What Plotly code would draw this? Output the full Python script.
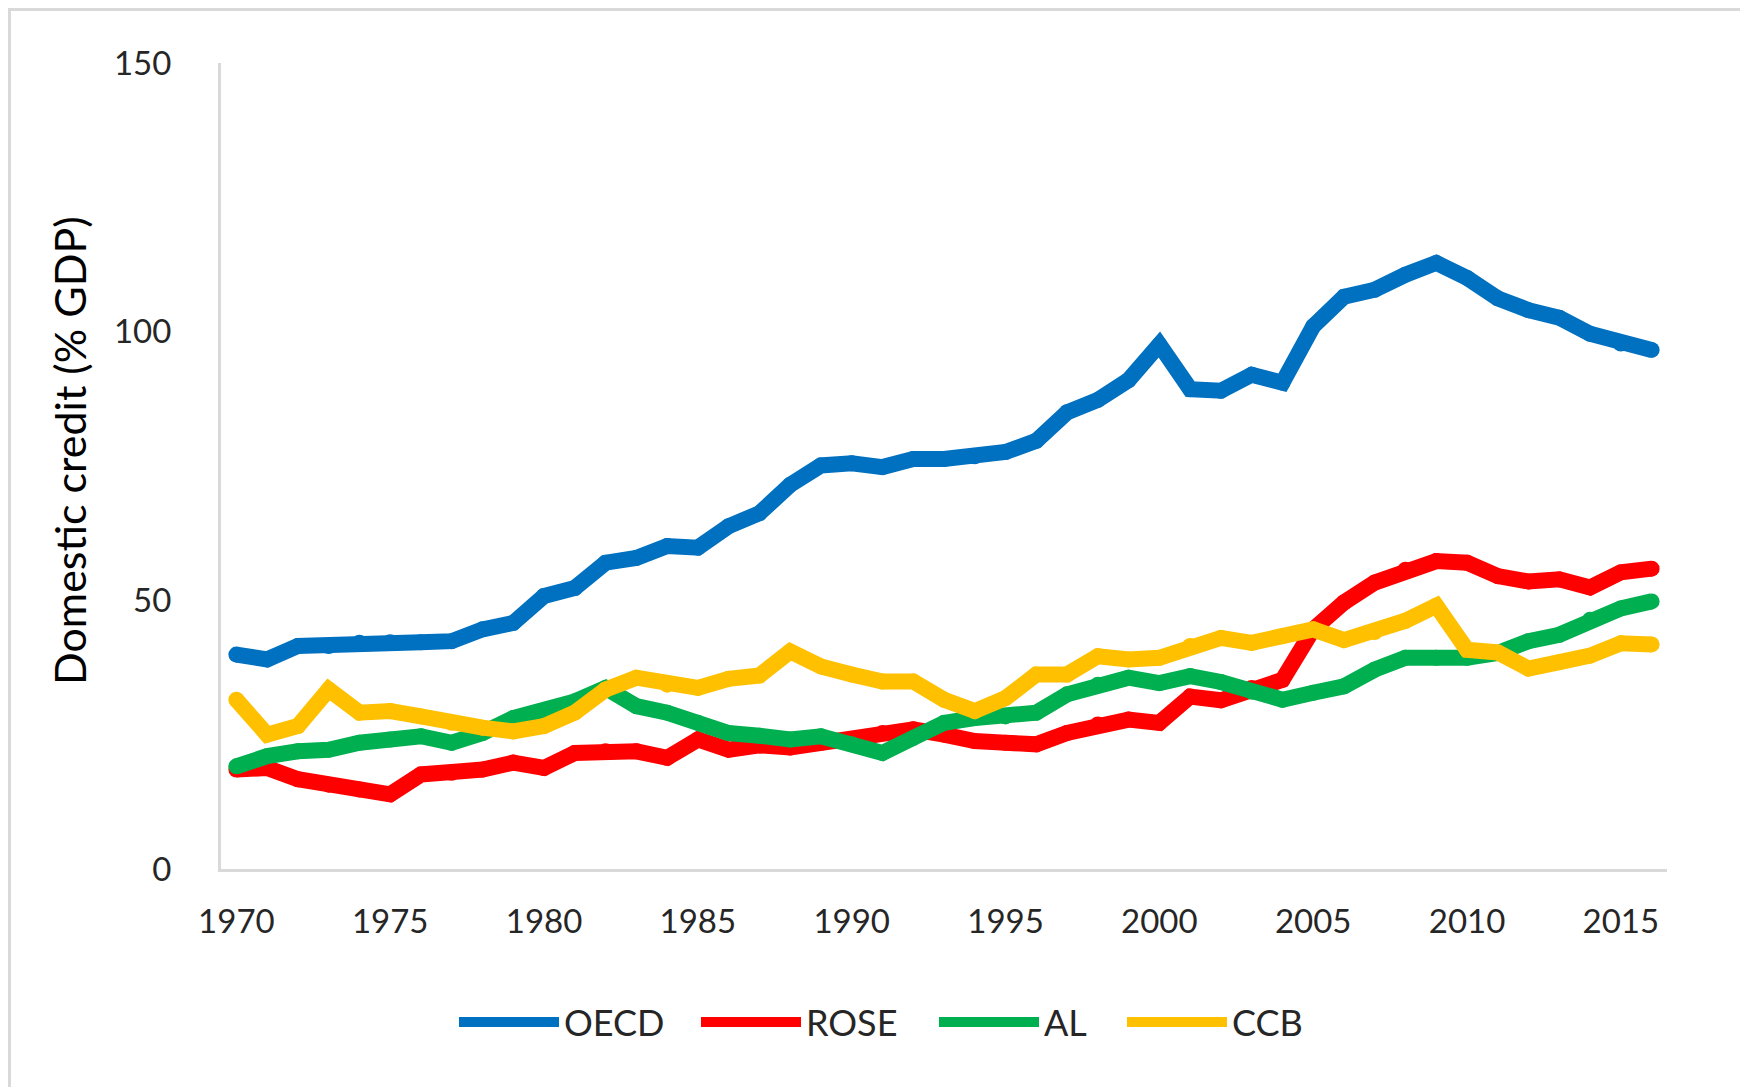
import plotly.graph_objects as go

years = list(range(1970, 2017))

oecd = [39.9, 39.0, 41.5, 41.5, 42.1, 42.2, 42.2, 42.4, 44.6, 45.8,
        50.8, 52.3, 57.0, 57.9, 60.1, 59.8, 63.8, 66.2, 71.5, 75.1,
        75.5, 74.8, 76.3, 76.3, 76.8, 77.6, 79.7, 85.0, 87.3, 91.0,
        97.6, 89.3, 89.0, 92.0, 90.5, 101.0, 106.5, 107.8, 110.6, 112.8,
        110.0, 106.2, 104.0, 102.6, 99.6, 97.8, 96.6]

rose = [18.5, 18.8, 16.7, 15.7, 14.8, 13.9, 17.6, 17.9, 18.5, 19.8,
        18.8, 21.6, 21.9, 21.9, 20.7, 24.1, 22.2, 23.0, 22.6, 23.5,
        24.1, 25.3, 26.0, 25.0, 23.8, 23.5, 23.2, 25.3, 26.9, 27.8,
        27.2, 32.1, 31.4, 33.7, 35.2, 44.6, 49.6, 53.3, 55.7, 57.3,
        57.0, 54.5, 53.5, 53.9, 52.4, 55.2, 55.9]

al = [19.1, 21.0, 21.9, 22.2, 23.5, 24.1, 24.7, 23.5, 25.3, 28.1,
      29.4, 31.2, 33.7, 30.3, 29.1, 27.2, 25.3, 24.8, 24.1, 24.7,
      23.2, 21.6, 24.4, 27.2, 28.1, 28.4, 29.1, 32.5, 34.3, 35.6,
      34.6, 35.9, 34.8, 33.0, 31.5, 32.8, 34.0, 37.1, 39.3, 39.3,
      39.3, 40.2, 42.4, 43.6, 46.4, 48.5, 49.8]

ccb = [31.5, 25.0, 26.6, 33.4, 29.1, 29.4, 28.4, 27.2, 26.3, 25.6,
       26.6, 29.1, 33.4, 35.6, 34.3, 33.7, 35.4, 36.0, 40.5, 37.7,
       36.2, 34.9, 34.9, 31.5, 29.4, 31.8, 36.2, 36.2, 39.6, 39.0,
       39.3, 41.5, 43.0, 42.1, 43.3, 44.6, 42.6, 44.1, 46.2, 49.0,
       40.8, 40.3, 37.3, 38.5, 39.7, 42.0, 41.8]

series_names = ["OECD", "ROSE", "AL", "CCB"]
series_values = [oecd, rose, al, ccb]
series_colors = ["#0070C0", "#FF0000", "#00B050", "#FFC000"]

y_ticks = [0, 50, 100, 150]
x_ticks = [1970, 1975, 1980, 1985, 1990, 1995, 2000, 2005, 2010, 2015]

FONT = "Lato"
W, H = 1748, 1087
ML, MR, MT, MB = 213, 89, 55, 226
PW, PH = W - ML - MR, H - MT - MB

def px_to_paper_x(px):
    return (px - ML) / PW

def px_to_paper_y(py):
    return (H - MB - py) / PH

legend_ids = ["legend", "legend2", "legend3", "legend4"]
legend_starts = [446, 688, 926, 1114]
LW = 16

fig = go.Figure()
for name, vals, col, lid in zip(series_names, series_values, series_colors, legend_ids):
    # round joints / caps
    fig.add_trace(go.Scatter(
        x=years, y=vals, name=name, mode="markers",
        marker=dict(color=col, size=LW, line=dict(width=0)),
        legend=lid, showlegend=False, legendgroup=name, hoverinfo="skip",
    ))
    fig.add_trace(go.Scatter(
        x=years, y=vals, name=name, mode="lines",
        line=dict(color=col, width=LW),
        legend=lid, legendgroup=name,
        hoverinfo="x+y+name",
    ))

fig.add_shape(type="rect", xref="paper", yref="paper",
              x0=px_to_paper_x(1.5), x1=px_to_paper_x(1735),
              y0=px_to_paper_y(1100), y1=px_to_paper_y(1.5),
              line=dict(color="#D9D9D9", width=3), fillcolor="rgba(0,0,0,0)",
              layer="below")

legend_common = dict(
    orientation="h", xanchor="left", y=px_to_paper_y(1014), yanchor="middle",
    font=dict(family=FONT, size=36, color="#262626"),
    itemwidth=100, bgcolor="rgba(0,0,0,0)", borderwidth=0,
)
layout_legends = {}
for lid, sx in zip(legend_ids, legend_starts):
    layout_legends[lid] = dict(legend_common, x=px_to_paper_x(sx))

fig.update_layout(
    width=W, height=H,
    margin=dict(l=ML, r=MR, t=MT, b=MB),
    paper_bgcolor="white", plot_bgcolor="white",
    font=dict(family=FONT, color="#262626", size=33),
    showlegend=True,
    xaxis=dict(
        range=[1969.5, 2016.5], tickmode="array", tickvals=x_ticks,
        ticktext=[str(v) for v in x_ticks],
        showgrid=False, zeroline=False, showline=True,
        linecolor="#D9D9D9", linewidth=3, ticks="",
        tickfont=dict(family=FONT, size=33, color="#262626"),
        ticklabelstandoff=21,
    ),
    yaxis=dict(
        range=[0, 150], tickmode="array", tickvals=y_ticks,
        ticktext=[str(v) for v in y_ticks],
        showgrid=False, zeroline=False, showline=True,
        linecolor="#D9D9D9", linewidth=3, ticks="",
        tickfont=dict(family=FONT, size=33, color="#262626"),
        ticklabelstandoff=40,
    ),
    annotations=[dict(
        text="Domestic credit (% GDP)", textangle=-90,
        xref="paper", yref="paper",
        x=px_to_paper_x(61), y=px_to_paper_y(443),
        xanchor="center", yanchor="middle", showarrow=False,
        font=dict(family=FONT, size=43, color="#000000"),
    )],
    **layout_legends,
)

fig.write_html("out.html")
